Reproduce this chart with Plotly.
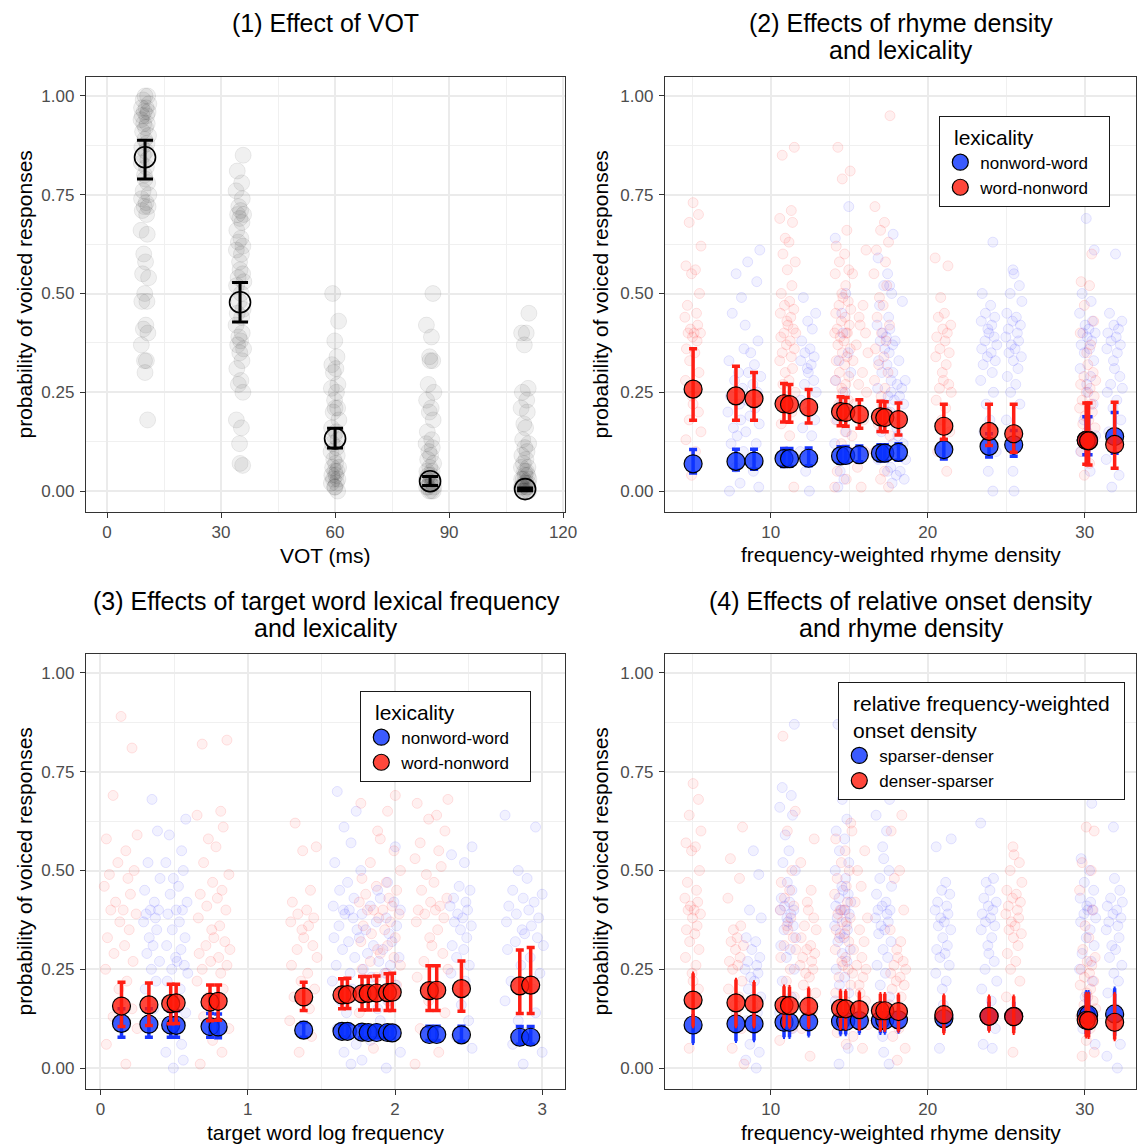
import plotly.graph_objects as go

W, H = 1137, 1145
FONT = "Liberation Sans"
NB = "\u00a0"

# ------------------------------------------------------------------ data
# (1) VOT
VOT = [10, 35, 60, 85, 110]
VOT_MEAN = [0.845, 0.478, 0.133, 0.025, 0.005]
VOT_LO = [0.790, 0.428, 0.109, 0.014, 0.001]
VOT_HI = [0.888, 0.528, 0.159, 0.037, 0.008]
VOT_RAW = [
    [1.00, 1.00, 0.99, 0.98, 0.97, 0.97, 0.96, 0.96, 0.95, 0.95, 0.94, 0.93, 0.93, 0.92, 0.91, 0.90,
     0.89, 0.88, 0.87, 0.86, 0.85, 0.84, 0.83, 0.82, 0.80, 0.79, 0.78, 0.76, 0.75, 0.74, 0.73, 0.72,
     0.72, 0.71, 0.70, 0.66, 0.65, 0.60, 0.58, 0.55, 0.54, 0.50, 0.48, 0.48, 0.42, 0.41, 0.40, 0.37,
     0.33, 0.33, 0.30, 0.18],
    [0.85, 0.81, 0.78, 0.76, 0.74, 0.72, 0.71, 0.70, 0.70, 0.69, 0.68, 0.66, 0.64, 0.63, 0.62, 0.61,
     0.60, 0.58, 0.56, 0.55, 0.54, 0.53, 0.52, 0.50, 0.48, 0.46, 0.45, 0.44, 0.42, 0.40, 0.39, 0.38,
     0.37, 0.36, 0.35, 0.33, 0.31, 0.28, 0.27, 0.25, 0.18, 0.16, 0.12, 0.07, 0.065],
    [0.50, 0.43, 0.38, 0.34, 0.32, 0.31, 0.30, 0.27, 0.26, 0.25, 0.23, 0.21, 0.21, 0.20, 0.18, 0.16,
     0.15, 0.14, 0.13, 0.12, 0.11, 0.10, 0.09, 0.08, 0.07, 0.06, 0.06, 0.05, 0.05, 0.04, 0.04, 0.03,
     0.03, 0.02, 0.02, 0.01, 0.01, 0.00],
    [0.50, 0.42, 0.39, 0.34, 0.33, 0.33, 0.27, 0.25, 0.23, 0.21, 0.20, 0.18, 0.15, 0.13, 0.12, 0.11,
     0.10, 0.09, 0.08, 0.07, 0.06, 0.05, 0.05, 0.04, 0.04, 0.03, 0.03, 0.03, 0.02, 0.02, 0.02, 0.01,
     0.01, 0.01, 0.00, 0.00, 0.00],
    [0.45, 0.40, 0.40, 0.37, 0.26, 0.25, 0.23, 0.21, 0.20, 0.17, 0.16, 0.13, 0.12, 0.11, 0.10, 0.09,
     0.08, 0.07, 0.06, 0.06, 0.05, 0.05, 0.04, 0.04, 0.03, 0.03, 0.03, 0.02, 0.02, 0.02, 0.01, 0.01,
     0.01, 0.01, 0.00, 0.00, 0.00, 0.00],
]

# (2) rhyme density x lexicality
RHYME_X = [5.06, 7.79, 8.94, 10.85, 11.2, 12.42, 14.45, 14.78, 15.65, 16.99, 17.27, 18.14,
           21.03, 23.91, 25.48, 30.1, 30.25, 31.91]
P2_BLUE = [0.069, 0.075, 0.076, 0.082, 0.082, 0.083, 0.089, 0.090, 0.092, 0.096, 0.096, 0.098,
           0.105, 0.113, 0.117, 0.129, 0.129, 0.138]
P2_BLUE_LO = [0.046, 0.053, 0.055, 0.062, 0.063, 0.064, 0.071, 0.072, 0.074, 0.077, 0.077, 0.078,
              0.081, 0.086, 0.088, 0.092, 0.092, 0.096]
P2_BLUE_HI = [0.105, 0.106, 0.106, 0.108, 0.108, 0.109, 0.112, 0.113, 0.114, 0.117, 0.117, 0.120,
              0.130, 0.145, 0.153, 0.188, 0.188, 0.199]
P2_RED = [0.258, 0.241, 0.234, 0.221, 0.219, 0.212, 0.201, 0.199, 0.194, 0.188, 0.186, 0.181,
          0.164, 0.151, 0.145, 0.128, 0.127, 0.118]
P2_RED_LO = [0.179, 0.179, 0.179, 0.175, 0.174, 0.172, 0.165, 0.164, 0.159, 0.151, 0.150, 0.142,
             0.131, 0.115, 0.098, 0.068, 0.066, 0.058]
P2_RED_HI = [0.360, 0.316, 0.300, 0.272, 0.270, 0.257, 0.239, 0.237, 0.231, 0.227, 0.226, 0.223,
             0.220, 0.220, 0.220, 0.223, 0.223, 0.225]

P2_RAW_BLUE_X = [7.8, 8.9, 12.4, 14.6, 17.3, 18.1, 23.9, 25.5, 30.2, 31.9]
P2_RAW_BLUE = [
    [0.55, 0.49, 0.45, 0.36, 0.33, 0.30, 0.28, 0.26, 0.24, 0.22, 0.20, 0.18, 0.16, 0.14, 0.12, 0.10, 0.06, 0.02, 0.00],
    [0.61, 0.58, 0.53, 0.42, 0.38, 0.35, 0.32, 0.30, 0.29, 0.27, 0.25, 0.23, 0.21, 0.19, 0.17, 0.15, 0.12, 0.08, 0.05, 0.01],
    [0.49, 0.45, 0.43, 0.41, 0.38, 0.36, 0.35, 0.34, 0.33, 0.32, 0.31, 0.30, 0.28, 0.27, 0.25, 0.23, 0.21, 0.20, 0.18,
     0.16, 0.14, 0.10, 0.08, 0.05, 0.00],
    [0.72, 0.64, 0.50, 0.45, 0.40, 0.35, 0.33, 0.30, 0.28, 0.25, 0.22, 0.20, 0.18, 0.15, 0.12, 0.08, 0.05, 0.03, 0.01],
    [0.65, 0.59, 0.55, 0.52, 0.50, 0.47, 0.44, 0.42, 0.41, 0.40, 0.39, 0.38, 0.37, 0.36, 0.35, 0.33, 0.32, 0.30, 0.28,
     0.26, 0.24, 0.22, 0.20, 0.18, 0.15, 0.12, 0.08, 0.05],
    [0.52, 0.48, 0.38, 0.33, 0.30, 0.28, 0.27, 0.26, 0.25, 0.24, 0.23, 0.22, 0.20, 0.18, 0.16, 0.14, 0.12, 0.10, 0.08,
     0.06, 0.05, 0.04, 0.03, 0.02],
    [0.63, 0.50, 0.47, 0.45, 0.44, 0.43, 0.42, 0.41, 0.40, 0.39, 0.38, 0.37, 0.36, 0.35, 0.34, 0.33, 0.32, 0.30, 0.28,
     0.25, 0.22, 0.18, 0.15, 0.10, 0.05, 0.00],
    [0.56, 0.55, 0.52, 0.50, 0.48, 0.45, 0.44, 0.43, 0.42, 0.41, 0.40, 0.39, 0.38, 0.37, 0.36, 0.35, 0.34, 0.33, 0.31,
     0.29, 0.27, 0.25, 0.22, 0.18, 0.14, 0.05, 0.00],
    [0.69, 0.61, 0.50, 0.48, 0.45, 0.43, 0.42, 0.41, 0.40, 0.40, 0.39, 0.38, 0.37, 0.36, 0.35, 0.33, 0.31, 0.29, 0.27,
     0.25, 0.22, 0.18, 0.14, 0.10, 0.05],
    [0.60, 0.45, 0.43, 0.42, 0.41, 0.40, 0.39, 0.38, 0.37, 0.36, 0.35, 0.33, 0.31, 0.29, 0.27, 0.26, 0.25, 0.23, 0.21,
     0.18, 0.15, 0.12, 0.08, 0.04, 0.01],
]
P2_RAW_RED_X = [5.06, 11.1, 14.6, 15.7, 17.1, 21.0, 30.2]
P2_RAW_RED = [
    [0.73, 0.70, 0.68, 0.62, 0.57, 0.56, 0.55, 0.50, 0.47, 0.45, 0.44, 0.42, 0.41, 0.40, 0.40, 0.40, 0.39, 0.38, 0.36,
     0.35, 0.33, 0.30, 0.28, 0.26, 0.24, 0.22, 0.20, 0.18, 0.15, 0.13, 0.10, 0.04],
    [0.87, 0.85, 0.71, 0.69, 0.68, 0.64, 0.63, 0.60, 0.58, 0.56, 0.52, 0.50, 0.48, 0.47, 0.46, 0.45, 0.44, 0.43, 0.42,
     0.41, 0.40, 0.40, 0.39, 0.38, 0.37, 0.36, 0.35, 0.34, 0.33, 0.31, 0.30, 0.28, 0.27, 0.25, 0.23, 0.20, 0.17, 0.14,
     0.10, 0.01],
    [0.87, 0.81, 0.79, 0.66, 0.62, 0.60, 0.58, 0.56, 0.55, 0.52, 0.50, 0.49, 0.48, 0.47, 0.46, 0.45, 0.44, 0.43, 0.42,
     0.41, 0.40, 0.40, 0.40, 0.39, 0.38, 0.37, 0.36, 0.35, 0.34, 0.33, 0.32, 0.30, 0.29, 0.28, 0.27, 0.26, 0.25, 0.23,
     0.22, 0.20, 0.18, 0.15, 0.12, 0.10, 0.05, 0.03, 0.01],
    [0.61, 0.55, 0.47, 0.44, 0.42, 0.40, 0.37, 0.35, 0.33, 0.30, 0.27, 0.25, 0.22, 0.18, 0.14, 0.10, 0.06, 0.01],
    [0.95, 0.72, 0.68, 0.66, 0.63, 0.61, 0.58, 0.55, 0.52, 0.49, 0.47, 0.44, 0.42, 0.40, 0.38, 0.36, 0.34, 0.32, 0.30,
     0.28, 0.26, 0.24, 0.22, 0.20, 0.17, 0.14, 0.10, 0.05, 0.03, 0.01],
    [0.59, 0.57, 0.49, 0.45, 0.44, 0.42, 0.41, 0.40, 0.39, 0.38, 0.36, 0.35, 0.34, 0.32, 0.30, 0.28, 0.27, 0.26, 0.25,
     0.23, 0.21, 0.18, 0.15, 0.10, 0.05],
    [0.60, 0.53, 0.52, 0.47, 0.43, 0.40, 0.37, 0.35, 0.32, 0.30, 0.29, 0.28, 0.27, 0.26, 0.25, 0.24, 0.23, 0.22, 0.21,
     0.20, 0.19, 0.18, 0.17, 0.16, 0.15, 0.13, 0.10, 0.07, 0.04],
]

# (3) target word log frequency x lexicality
FREQ_X = [0.143, 0.329, 0.477, 0.514, 0.744, 0.799, 1.380, 1.640, 1.677, 1.776, 1.818, 1.875,
          1.949, 1.981, 2.233, 2.283, 2.451, 2.847, 2.921]
P3_BLUE = [0.113, 0.111, 0.109, 0.108, 0.105, 0.104, 0.096, 0.093, 0.093, 0.091, 0.090, 0.090,
           0.090, 0.089, 0.085, 0.085, 0.084, 0.078, 0.078]
P3_BLUE_LO = [0.078, 0.078, 0.078, 0.078, 0.078, 0.077, 0.078, 0.078, 0.078, 0.077, 0.077, 0.077,
              0.076, 0.076, 0.070, 0.070, 0.068, 0.060, 0.060]
P3_BLUE_HI = [0.150, 0.150, 0.145, 0.145, 0.138, 0.137, 0.115, 0.110, 0.110, 0.108, 0.107, 0.107,
              0.107, 0.106, 0.106, 0.106, 0.106, 0.105, 0.105]
P3_RED = [0.157, 0.160, 0.163, 0.165, 0.167, 0.169, 0.180, 0.185, 0.186, 0.188, 0.189, 0.190,
          0.191, 0.192, 0.196, 0.197, 0.201, 0.208, 0.210]
P3_RED_LO = [0.105, 0.108, 0.112, 0.113, 0.120, 0.121, 0.146, 0.150, 0.151, 0.147, 0.147, 0.147,
             0.146, 0.146, 0.146, 0.146, 0.144, 0.138, 0.138]
P3_RED_HI = [0.217, 0.215, 0.212, 0.212, 0.210, 0.210, 0.217, 0.226, 0.227, 0.232, 0.232, 0.233,
             0.239, 0.240, 0.259, 0.259, 0.271, 0.299, 0.305]

P3_RAW_BLUE_X = [0.35, 0.52, 1.66, 1.90, 2.45, 2.88]
P3_RAW_BLUE = [
    [0.68, 0.60, 0.52, 0.48, 0.45, 0.42, 0.40, 0.40, 0.39, 0.38, 0.37, 0.35, 0.33, 0.31, 0.29, 0.27, 0.25, 0.22, 0.20, 0.15],
    [0.63, 0.59, 0.55, 0.52, 0.50, 0.48, 0.46, 0.44, 0.42, 0.40, 0.40, 0.39, 0.37, 0.35, 0.33, 0.31, 0.30, 0.28, 0.27,
     0.26, 0.25, 0.24, 0.22, 0.20, 0.17, 0.14, 0.10, 0.06, 0.04, 0.02, 0.00],
    [0.70, 0.65, 0.61, 0.57, 0.52, 0.47, 0.45, 0.43, 0.41, 0.40, 0.40, 0.39, 0.38, 0.36, 0.35, 0.33, 0.32, 0.30, 0.28,
     0.26, 0.24, 0.22, 0.20, 0.17, 0.14, 0.10, 0.06, 0.04, 0.01],
    [0.56, 0.50, 0.47, 0.45, 0.43, 0.42, 0.41, 0.40, 0.39, 0.38, 0.37, 0.36, 0.35, 0.34, 0.33, 0.32, 0.31, 0.30, 0.29,
     0.28, 0.27, 0.26, 0.25, 0.24, 0.23, 0.21, 0.19, 0.17, 0.15, 0.12, 0.10, 0.07, 0.04, 0.02, 0.00],
    [0.56, 0.54, 0.52, 0.46, 0.45, 0.43, 0.42, 0.41, 0.40, 0.39, 0.38, 0.37, 0.36, 0.35, 0.33, 0.31, 0.30, 0.28, 0.26,
     0.24, 0.22, 0.19, 0.16, 0.12, 0.08, 0.05],
    [0.64, 0.61, 0.50, 0.48, 0.45, 0.44, 0.43, 0.42, 0.41, 0.40, 0.39, 0.38, 0.37, 0.36, 0.35, 0.34, 0.33, 0.32, 0.31,
     0.30, 0.28, 0.26, 0.24, 0.22, 0.20, 0.17, 0.14, 0.12, 0.09, 0.06, 0.04, 0.01],
]
P3_RAW_RED_X = [0.14, 0.77, 1.38, 1.90, 2.25]
P3_RAW_RED = [
    [0.89, 0.81, 0.69, 0.59, 0.58, 0.55, 0.52, 0.50, 0.49, 0.48, 0.46, 0.44, 0.42, 0.40, 0.40, 0.39, 0.37, 0.35, 0.33,
     0.31, 0.29, 0.27, 0.25, 0.22, 0.20, 0.17, 0.15, 0.13, 0.10, 0.06, 0.01],
    [0.83, 0.82, 0.65, 0.64, 0.61, 0.58, 0.56, 0.52, 0.49, 0.47, 0.45, 0.44, 0.43, 0.41, 0.40, 0.38, 0.36, 0.35, 0.33,
     0.32, 0.31, 0.30, 0.29, 0.28, 0.27, 0.26, 0.25, 0.24, 0.22, 0.20, 0.18, 0.16, 0.13, 0.10, 0.07, 0.04, 0.01],
    [0.62, 0.56, 0.55, 0.45, 0.42, 0.40, 0.39, 0.38, 0.37, 0.36, 0.35, 0.33, 0.31, 0.30, 0.28, 0.26, 0.24, 0.22, 0.20,
     0.18, 0.15, 0.12, 0.08, 0.04],
    [0.69, 0.67, 0.65, 0.60, 0.58, 0.55, 0.52, 0.50, 0.48, 0.47, 0.46, 0.45, 0.44, 0.43, 0.42, 0.41, 0.40, 0.40, 0.40,
     0.39, 0.38, 0.37, 0.36, 0.35, 0.34, 0.33, 0.32, 0.31, 0.30, 0.29, 0.28, 0.27, 0.26, 0.25, 0.24, 0.23, 0.21, 0.19,
     0.17, 0.14, 0.10, 0.05],
    [0.68, 0.67, 0.64, 0.63, 0.60, 0.57, 0.55, 0.53, 0.51, 0.49, 0.47, 0.45, 0.43, 0.42, 0.41, 0.40, 0.40, 0.39, 0.38,
     0.37, 0.35, 0.33, 0.31, 0.29, 0.27, 0.25, 0.23, 0.20, 0.17, 0.14, 0.10, 0.04, 0.01],
]

# (4) relative onset density x rhyme density
P4_BLUE = [0.109, 0.112, 0.112, 0.116, 0.116, 0.117, 0.118, 0.118, 0.120, 0.120, 0.121, 0.122,
           0.125, 0.131, 0.131, 0.135, 0.135, 0.137]
P4_BLUE_LO = [0.063, 0.068, 0.070, 0.078, 0.078, 0.082, 0.085, 0.085, 0.088, 0.088, 0.089, 0.091,
              0.094, 0.097, 0.097, 0.086, 0.086, 0.082]
P4_BLUE_HI = [0.137, 0.140, 0.141, 0.145, 0.145, 0.146, 0.148, 0.148, 0.150, 0.151, 0.151, 0.153,
              0.158, 0.168, 0.168, 0.193, 0.193, 0.202]
P4_RED = [0.172, 0.165, 0.163, 0.159, 0.158, 0.156, 0.151, 0.150, 0.148, 0.145, 0.145, 0.143,
          0.135, 0.131, 0.130, 0.121, 0.120, 0.116]
P4_RED_LO = [0.105, 0.105, 0.105, 0.105, 0.104, 0.103, 0.100, 0.100, 0.098, 0.096, 0.096, 0.094,
             0.088, 0.094, 0.088, 0.079, 0.078, 0.072]
P4_RED_HI = [0.240, 0.224, 0.218, 0.207, 0.206, 0.202, 0.196, 0.195, 0.192, 0.188, 0.188, 0.186,
             0.184, 0.182, 0.182, 0.188, 0.188, 0.188]

P4_RAW_BLUE_X = [8.9, 11.1, 14.6, 17.2, 21.0, 23.9, 30.2, 31.9]
P4_RAW_BLUE = [
    [0.55, 0.49, 0.40, 0.38, 0.33, 0.32, 0.30, 0.28, 0.27, 0.26, 0.25, 0.24, 0.23, 0.22, 0.20, 0.18, 0.16, 0.14, 0.12,
     0.10, 0.06, 0.04, 0.02, 0.00],
    [0.87, 0.71, 0.69, 0.66, 0.64, 0.59, 0.55, 0.52, 0.50, 0.47, 0.45, 0.43, 0.42, 0.41, 0.40, 0.40, 0.39, 0.38, 0.37,
     0.36, 0.35, 0.33, 0.31, 0.30, 0.28, 0.25, 0.22, 0.18, 0.14, 0.10],
    [0.87, 0.80, 0.68, 0.63, 0.60, 0.58, 0.55, 0.52, 0.50, 0.48, 0.46, 0.45, 0.44, 0.43, 0.42, 0.41, 0.40, 0.40, 0.39,
     0.38, 0.37, 0.36, 0.35, 0.34, 0.33, 0.32, 0.30, 0.29, 0.27, 0.25, 0.23, 0.21, 0.19, 0.17, 0.15, 0.12, 0.10, 0.05,
     0.01],
    [0.68, 0.64, 0.60, 0.56, 0.53, 0.50, 0.48, 0.46, 0.44, 0.42, 0.41, 0.40, 0.40, 0.39, 0.38, 0.37, 0.36, 0.35, 0.34,
     0.32, 0.30, 0.28, 0.26, 0.24, 0.21, 0.18, 0.15, 0.12, 0.08, 0.04, 0.01],
    [0.58, 0.56, 0.47, 0.45, 0.44, 0.42, 0.41, 0.40, 0.39, 0.38, 0.37, 0.36, 0.35, 0.33, 0.31, 0.30, 0.29, 0.28, 0.26,
     0.24, 0.22, 0.20, 0.16, 0.13, 0.05],
    [0.62, 0.48, 0.47, 0.45, 0.43, 0.42, 0.41, 0.40, 0.39, 0.38, 0.37, 0.36, 0.35, 0.33, 0.31, 0.29, 0.27, 0.25, 0.22,
     0.20, 0.17, 0.13, 0.10, 0.06, 0.05],
    [0.67, 0.53, 0.50, 0.47, 0.45, 0.43, 0.42, 0.41, 0.40, 0.40, 0.39, 0.38, 0.37, 0.35, 0.33, 0.31, 0.29, 0.27, 0.25,
     0.22, 0.18, 0.14, 0.10, 0.06],
    [0.61, 0.48, 0.45, 0.43, 0.42, 0.41, 0.40, 0.39, 0.38, 0.37, 0.36, 0.35, 0.33, 0.31, 0.30, 0.28, 0.26, 0.24, 0.22,
     0.19, 0.15, 0.11, 0.06, 0.03, 0.00],
]
P4_RAW_RED_X = [5.06, 7.8, 11.1, 12.4, 14.6, 15.7, 18.1, 25.5, 30.2]
P4_RAW_RED = [
    [0.72, 0.68, 0.64, 0.60, 0.57, 0.56, 0.55, 0.50, 0.47, 0.45, 0.43, 0.42, 0.41, 0.40, 0.40, 0.39, 0.38, 0.36, 0.35,
     0.34, 0.32, 0.30, 0.28, 0.26, 0.24, 0.22, 0.20, 0.05],
    [0.61, 0.53, 0.48, 0.43, 0.36, 0.35, 0.33, 0.32, 0.31, 0.30, 0.28, 0.27, 0.26, 0.25, 0.22, 0.20, 0.18, 0.16, 0.14,
     0.10, 0.05, 0.01],
    [0.84, 0.65, 0.60, 0.50, 0.47, 0.45, 0.43, 0.41, 0.40, 0.38, 0.36, 0.35, 0.33, 0.31, 0.30, 0.28, 0.25, 0.22, 0.18,
     0.15, 0.10, 0.07],
    [0.58, 0.52, 0.45, 0.42, 0.40, 0.38, 0.36, 0.35, 0.33, 0.31, 0.30, 0.29, 0.28, 0.27, 0.26, 0.25, 0.24, 0.23, 0.21,
     0.19, 0.17, 0.14, 0.10, 0.03],
    [0.62, 0.58, 0.55, 0.52, 0.50, 0.48, 0.46, 0.44, 0.42, 0.40, 0.40, 0.39, 0.38, 0.37, 0.36, 0.35, 0.34, 0.33, 0.32,
     0.30, 0.28, 0.27, 0.26, 0.25, 0.23, 0.21, 0.19, 0.17, 0.15, 0.12, 0.09, 0.06],
    [0.60, 0.55, 0.50, 0.46, 0.42, 0.38, 0.35, 0.32, 0.30, 0.28, 0.26, 0.25, 0.24, 0.23, 0.21, 0.19, 0.17, 0.14, 0.11,
     0.08, 0.05],
    [0.64, 0.60, 0.50, 0.48, 0.40, 0.35, 0.32, 0.30, 0.28, 0.27, 0.26, 0.25, 0.24, 0.23, 0.22, 0.21, 0.20, 0.18, 0.16,
     0.14, 0.12, 0.10, 0.08, 0.05, 0.02],
    [0.56, 0.54, 0.52, 0.50, 0.47, 0.45, 0.44, 0.43, 0.42, 0.41, 0.40, 0.39, 0.38, 0.37, 0.36, 0.35, 0.34, 0.33, 0.31,
     0.29, 0.27, 0.25, 0.22, 0.18, 0.14, 0.04],
    [0.61, 0.60, 0.52, 0.50, 0.45, 0.40, 0.36, 0.33, 0.30, 0.28, 0.27, 0.26, 0.25, 0.24, 0.23, 0.22, 0.21, 0.20, 0.19,
     0.18, 0.17, 0.16, 0.15, 0.13, 0.10, 0.07, 0.04, 0.03],
]

Y_TICKS = [0, 0.25, 0.5, 0.75, 1.0]
Y_TICK_TEXT = ["0.00", "0.25", "0.50", "0.75", "1.00"]

# ------------------------------------------------------------------ styling helpers
JIT = [0.00, 0.62, -0.45, 0.91, -0.83, 0.27, -0.18, 0.74, -0.66, 0.39, -0.95, 0.53, -0.31,
       0.12, -0.58, 0.85, -0.07, 0.46, -0.77, 0.20, -0.40, 0.68, -0.88, 0.33, -0.12]

P3_BLUE_SPREAD = [0.06, 0.08, 0.09, 0.15, 0.08, 0.14]
P3_RED_SPREAD = [0.12, 0.12, 0.10, 0.15, 0.12]

BLUE_PT = "rgba(10,50,255,0.80)"
RED_PT = "rgba(255,25,10,0.80)"
BLUE_EB = "rgb(25,55,255)"
RED_EB = "rgb(255,30,20)"


def px(x):
    return x / W


def py(y):
    return 1 - y / H


def cloud(centers, groups, spreads):
    xs, ys = [], []
    for gi, (c, vals) in enumerate(zip(centers, groups)):
        s = spreads[gi] if isinstance(spreads, list) else spreads
        for j, v in enumerate(vals):
            xs.append(c + s * JIT[(j + 7 * gi) % len(JIT)])
            ys.append(v)
    return xs, ys


def errs(mean, lo, hi):
    return [h - m for m, h in zip(mean, hi)], [m - l for m, l in zip(mean, lo)]


fig = go.Figure()

# ---------------- panel 1
bx, by = cloud(VOT, VOT_RAW, 1.1)
fig.add_trace(go.Scatter(x=bx, y=by, mode="markers", xaxis="x", yaxis="y", showlegend=False,
                         marker=dict(size=16, color="rgba(0,0,0,0.06)",
                                     line=dict(color="rgba(0,0,0,0.07)", width=1)),
                         hoverinfo="skip"))
up, dn = errs(VOT_MEAN, VOT_LO, VOT_HI)
fig.add_trace(go.Scatter(x=VOT, y=VOT_MEAN, mode="markers", xaxis="x", yaxis="y", showlegend=False,
                         marker=dict(size=21, color="rgba(0,0,0,0)", line=dict(color="black", width=1.6)),
                         error_y=dict(type="data", symmetric=False, array=up, arrayminus=dn,
                                      color="black", thickness=3, width=8)))


def panel(xax, yax, bg_blue, bg_red, xm, blue, blo, bhi, red, rlo, rhi, names, legend, capw):
    bxs, bys = bg_blue
    rxs, rys = bg_red
    fig.add_trace(go.Scatter(x=bxs, y=bys, mode="markers", xaxis=xax, yaxis=yax, showlegend=False,
                             marker=dict(size=10, color="rgba(0,0,255,0.055)",
                                         line=dict(color="rgba(0,0,255,0.11)", width=0.9)),
                             hoverinfo="skip"))
    fig.add_trace(go.Scatter(x=rxs, y=rys, mode="markers", xaxis=xax, yaxis=yax, showlegend=False,
                             marker=dict(size=10, color="rgba(255,0,0,0.06)",
                                         line=dict(color="rgba(255,0,0,0.12)", width=0.9)),
                             hoverinfo="skip"))
    u, d = errs(blue, blo, bhi)
    fig.add_trace(go.Scatter(x=xm, y=blue, mode="markers", xaxis=xax, yaxis=yax, name=names[0],
                             legend=legend,
                             marker=dict(size=18, color=BLUE_PT, line=dict(color="black", width=1.2)),
                             error_y=dict(type="data", symmetric=False, array=u, arrayminus=d,
                                          color=BLUE_EB, thickness=3.5, width=capw)))
    u, d = errs(red, rlo, rhi)
    fig.add_trace(go.Scatter(x=xm, y=red, mode="markers", xaxis=xax, yaxis=yax, name=names[1],
                             legend=legend,
                             marker=dict(size=18, color=RED_PT, line=dict(color="black", width=1.2)),
                             error_y=dict(type="data", symmetric=False, array=u, arrayminus=d,
                                          color=RED_EB, thickness=3.5, width=capw)))


LEX = ["nonword-word" + NB * 3, "word-nonword" + NB * 3]
ONS = ["sparser-denser", "denser-sparser"]

panel("x2", "y2", cloud(P2_RAW_BLUE_X, P2_RAW_BLUE, 0.55), cloud(P2_RAW_RED_X, P2_RAW_RED, 0.55),
      RHYME_X, P2_BLUE, P2_BLUE_LO, P2_BLUE_HI, P2_RED, P2_RED_LO, P2_RED_HI, LEX, "legend", 4)
panel("x3", "y3", cloud(P3_RAW_BLUE_X, P3_RAW_BLUE, P3_BLUE_SPREAD),
      cloud(P3_RAW_RED_X, P3_RAW_RED, P3_RED_SPREAD),
      FREQ_X, P3_BLUE, P3_BLUE_LO, P3_BLUE_HI, P3_RED, P3_RED_LO, P3_RED_HI, LEX, "legend2", 4)
panel("x4", "y4", cloud(P4_RAW_BLUE_X, P4_RAW_BLUE, 0.55), cloud(P4_RAW_RED_X, P4_RAW_RED, 0.55),
      RHYME_X, P4_BLUE, P4_BLUE_LO, P4_BLUE_HI, P4_RED, P4_RED_LO, P4_RED_HI, ONS, "legend3", 1)

# ------------------------------------------------------------------ axes
AX = dict(showline=True, mirror=True, linecolor="#333333", linewidth=1.3, automargin=False,
          ticks="outside", ticklen=5, tickwidth=1.3, tickcolor="#333333",
          showgrid=True, gridcolor="#EBEBEB", gridwidth=1.8, zeroline=False,
          tickfont=dict(size=17, color="#4D4D4D", family=FONT))
MINOR = dict(showgrid=True, gridcolor="#F0F0F0", gridwidth=1)

XD_L = [px(86), px(565)]
XD_R = [px(665), px(1136)]
YD_T = [py(512), py(77)]
YD_B = [py(1089), py(654)]
YR = [-0.053, 1.048]


def yax(dom, anchor):
    return dict(AX, domain=dom, anchor=anchor, range=YR, tickvals=Y_TICKS, ticktext=Y_TICK_TEXT,
                ticklabelstandoff=2, minor=dict(MINOR, tickvals=[0.125, 0.375, 0.625, 0.875]))


def xax(dom, anchor, rng, ticks, minor):
    return dict(AX, domain=dom, anchor=anchor, range=rng, tickvals=ticks, ticklabelstandoff=-1,
                minor=dict(MINOR, tickvals=minor))


fig.update_layout(
    xaxis=xax(XD_L, "y", [-5.53, 120.5], [0, 30, 60, 90, 120], [15, 45, 75, 105]),
    yaxis=yax(YD_T, "x"),
    xaxis2=xax(XD_R, "y2", [3.27, 33.27], [10, 20, 30], [5, 15, 25]),
    yaxis2=yax(YD_T, "x2"),
    xaxis3=xax(XD_L, "y3", [-0.098, 3.154], [0, 1, 2, 3], [0.5, 1.5, 2.5]),
    yaxis3=yax(YD_B, "x3"),
    xaxis4=xax(XD_R, "y4", [3.27, 33.27], [10, 20, 30], [5, 15, 25]),
    yaxis4=yax(YD_B, "x4"),
)

LEG = dict(xanchor="left", yanchor="top", bgcolor="white", bordercolor="#1A1A1A", borderwidth=1.3,
           font=dict(size=17, family=FONT, color="black"), itemsizing="trace", tracegroupgap=0)
TFONT = dict(size=21, family=FONT, color="black")
fig.update_layout(
    legend=dict(LEG, x=px(939), y=py(116), title=dict(text=NB * 2 + "lexicality", font=TFONT)),
    legend2=dict(LEG, x=px(360), y=py(691), title=dict(text=NB * 2 + "lexicality", font=TFONT)),
    legend3=dict(LEG, x=px(838), y=py(682),
                 title=dict(text=NB * 2 + "relative frequency-weighted" + NB * 2 + "<br>" + NB * 2 + "onset density",
                            font=TFONT)),
)

# ------------------------------------------------------------------ text
ann = []


def text(t, x, y, size, angle=0):
    ann.append(dict(text=t, x=px(x), y=py(y), xref="paper", yref="paper", showarrow=False,
                    xanchor="center", yanchor="middle", textangle=angle,
                    font=dict(size=size, family=FONT, color="black")))


text("(1) Effect of VOT", 325.5, 23, 25)
text("(2) Effects of rhyme density", 900.5, 23, 25)
text("and lexicality", 900.5, 50, 25)
text("(3) Effects of target word lexical frequency", 326, 601, 25)
text("and lexicality", 326, 628, 25)
text("(4) Effects of relative onset density", 901, 601, 25)
text("and rhyme density", 901, 628, 25)

text("VOT (ms)", 325.5, 555, 21)
text("frequency-weighted rhyme density", 900.5, 554, 21)
text("target word log frequency", 325.5, 1132, 21)
text("frequency-weighted rhyme density", 900.5, 1132, 21)
for xx, yy in [(24, 294.5), (600, 294.5), (24, 871.5), (600, 871.5)]:
    text("probability of voiced responses", xx, yy, 21, -90)

fig.update_layout(annotations=ann, width=W, height=H, margin=dict(l=0, r=0, t=0, b=0, autoexpand=False),
                  paper_bgcolor="white", plot_bgcolor="white",
                  font=dict(family=FONT, size=17, color="black"))

# the page's default 8px body margin would push the 1137x1145 figure off the window
fig.write_html("out.html", config={"displayModeBar": False},
               post_script="document.body.style.margin='0';")
